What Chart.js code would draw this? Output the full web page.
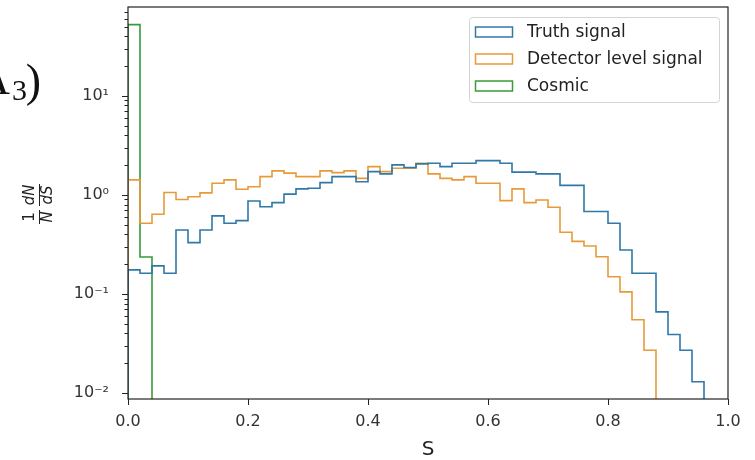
<!DOCTYPE html>
<html>
<head>
<meta charset="utf-8">
<script src="https://cdn.jsdelivr.net/npm/chart.js@4.4.0/dist/chart.umd.min.js"></script>
<style>
   html, body { margin: 0; padding: 0; background: #fff; }
   #hist-chart { display: block; }
</style>
</head>
<body>
<canvas id="hist-chart" width="755" height="460"></canvas>
<script>
// 50 bins of width 0.02 on S in [0, 1], values are 1/N dN/dS
const binWidth = 0.02;
const truthSignal = [
   0.175, 0.162, 0.192, 0.162, 0.443, 0.33, 0.443, 0.614, 0.518, 0.55,
   0.87, 0.76, 0.836, 1.02, 1.15, 1.17, 1.33, 1.53, 1.53, 1.36,
   1.72, 1.63, 2.01, 1.89, 2.06, 2.09, 1.93, 2.09, 2.09, 2.22,
   2.22, 2.09, 1.70, 1.70, 1.63, 1.63, 1.25, 1.25, 0.68, 0.68,
   0.518, 0.278, 0.162, 0.162, 0.066, 0.039, 0.027, 0.013, 0, 0
];
const detectorSignal = [
   1.42, 0.518, 0.638, 1.06, 0.90, 0.96, 1.05, 1.31, 1.42, 1.14,
   1.21, 1.53, 1.75, 1.66, 1.53, 1.53, 1.75, 1.68, 1.75, 1.47,
   1.93, 1.72, 1.86, 1.86, 2.09, 1.63, 1.47, 1.42, 1.53, 1.31,
   1.31, 0.876, 1.15, 0.836, 0.89, 0.75, 0.42, 0.34, 0.305, 0.238,
   0.149, 0.105, 0.055, 0.027, 0, 0, 0, 0, 0, 0
];
const cosmic = [
   52.5, 0.236, 0, 0, 0, 0, 0, 0, 0, 0,
   0, 0, 0, 0, 0, 0, 0, 0, 0, 0,
   0, 0, 0, 0, 0, 0, 0, 0, 0, 0,
   0, 0, 0, 0, 0, 0, 0, 0, 0, 0,
   0, 0, 0, 0, 0, 0, 0, 0, 0, 0
];
const seriesLabels = ['Truth signal', 'Detector level signal', 'Cosmic'];
const xTicks = [0.0, 0.2, 0.4, 0.6, 0.8, 1.0];
const yMajorTicks = [0.01, 0.1, 1, 10];
const yTickLabels = ['10\u207B\u00B2', '10\u207B\u00B9', '10\u2070', '10\u00B9'];
const yMin = 0.0087;
const yMax = 79;

Chart.defaults.font.family = 'DejaVu Sans';

// minor ticks 2..9 for each decade
var yTicks = [];
yMajorTicks.forEach(m => {
   for (let k = 1; k <= 9; k++) {
      const v = m * k;
      if (v >= yMin && v <= yMax) yTicks.push(v);
   }
});

function isMajor(v) {
   return yMajorTicks.findIndex(m => Math.abs(v / m - 1) < 1e-6);
}

// step outline like histtype='step': zero bins fall below the axis
function histPoints(values) {
   const floor = 1e-4;
   var pts = [{x: 0, y: floor}];
   values.forEach((v, i) => {
      pts.push({x: i * binWidth, y: v > 0 ? v : floor});
   });
   const last = values[values.length - 1];
   pts.push({x: values.length * binWidth, y: last > 0 ? last : floor});
   pts.push({x: values.length * binWidth, y: floor});
   return pts;
}

function histSet(label, values, color) {
   return {
      label: label,
      data: histPoints(values),
      borderColor: color,
      backgroundColor: color,
      borderWidth: 1.6,
      stepped: 'before',
      pointRadius: 0,
      fill: false,
      tension: 0
   };
}

const axisFrame = {
   id: 'axisFrame',
   afterDatasetsDraw(chart) {
      const ctx = chart.ctx;
      const a = chart.chartArea;
      ctx.save();
      ctx.strokeStyle = '#222';
      ctx.lineWidth = 1.2;
      ctx.strokeRect(a.left, a.top, a.right - a.left, a.bottom - a.top);
      ctx.lineWidth = 1;
      chart.scales.x.ticks.forEach(t => {
         const px = Math.round(chart.scales.x.getPixelForValue(t.value)) + 0.5;
         ctx.beginPath();
         ctx.moveTo(px, a.bottom);
         ctx.lineTo(px, a.bottom + 6);
         ctx.stroke();
      });
      chart.scales.y.ticks.forEach(t => {
         const py = Math.round(chart.scales.y.getPixelForValue(t.value)) + 0.5;
         const len = isMajor(t.value) >= 0 ? 6 : 3.5;
         ctx.beginPath();
         ctx.moveTo(a.left - len, py);
         ctx.lineTo(a.left, py);
         ctx.stroke();
      });
      ctx.restore();
   }
};

const boxLegend = {
   id: 'boxLegend',
   afterDraw(chart) {
      const ctx = chart.ctx;
      const a = chart.chartArea;
      const w = 250, h = 85;
      const left = a.right - 9 - w;
      const top = a.top + 10;
      ctx.save();
      ctx.fillStyle = 'rgba(255,255,255,0.8)';
      ctx.strokeStyle = '#d4d4d4';
      ctx.lineWidth = 1;
      ctx.beginPath();
      ctx.roundRect(left + 0.5, top + 0.5, w, h, 3);
      ctx.fill();
      ctx.stroke();
      ctx.font = '17px "DejaVu Sans"';
      ctx.textBaseline = 'middle';
      chart.data.datasets.forEach((ds, i) => {
         const cy = top + 15 + i * 27;
         ctx.strokeStyle = ds.borderColor;
         ctx.lineWidth = 1.5;
         ctx.strokeRect(left + 6.5, cy - 5, 37, 10);
         ctx.fillStyle = '#222';
         ctx.fillText(ds.label, left + 58, cy + 1);
      });
      ctx.restore();
   }
};

// y label: (1/N)(dN/dS) rotated
const yFraction = {
   id: 'yFraction',
   afterDraw(chart) {
      const ctx = chart.ctx;
      const a = chart.chartArea;
      ctx.save();
      ctx.translate(39, (a.top + a.bottom) / 2);
      ctx.rotate(-Math.PI / 2);
      ctx.fillStyle = '#222';
      ctx.strokeStyle = '#222';
      ctx.lineWidth = 1;
      ctx.textAlign = 'center';
      ctx.textBaseline = 'alphabetic';
      ctx.font = '15px "DejaVu Sans"';
      ctx.fillText('1', -14, -5);
      ctx.font = 'italic 15px "DejaVu Sans"';
      ctx.fillText('N', -14, 13);
      ctx.fillText('dN', 8, -5);
      ctx.fillText('dS', 8, 13);
      ctx.beginPath();
      ctx.moveTo(-21, 0.5);
      ctx.lineTo(-7, 0.5);
      ctx.moveTo(-3, 0.5);
      ctx.lineTo(19, 0.5);
      ctx.stroke();
      ctx.restore();
   }
};

// cut-off text at the left edge of the original figure
const leftFragment = {
   id: 'leftFragment',
   afterDraw(chart) {
      const ctx = chart.ctx;
      ctx.save();
      ctx.fillStyle = '#111';
      ctx.textBaseline = 'alphabetic';
      ctx.font = '46px "Liberation Serif"';
      ctx.textAlign = 'right';
      ctx.fillText('\u039B', 10, 94);
      ctx.fillText(')', 41, 96);
      ctx.font = '30px "Liberation Serif"';
      ctx.textAlign = 'left';
      ctx.fillText('3', 12, 100);
      ctx.restore();
   }
};

new Chart(document.getElementById('hist-chart'), {
   type: 'line',
   data: {
      datasets: [
         histSet(seriesLabels[0], truthSignal, '#2f78a8'),
         histSet(seriesLabels[1], detectorSignal, '#e89a3a'),
         histSet(seriesLabels[2], cosmic, '#3a9a3a')
      ]
   },
   options: {
      responsive: false,
      animation: false,
      layout: { padding: { top: 7, right: 27, left: 0, bottom: 0 } },
      plugins: {
         legend: { display: false },
         tooltip: { enabled: false }
      },
      scales: {
         x: {
            type: 'linear',
            min: 0,
            max: 1,
            grid: { display: false },
            border: { display: false },
            afterBuildTicks: s => { s.ticks = xTicks.map(v => ({value: v})); },
            afterFit: s => { s.height = 61; s.paddingLeft = 0; s.paddingRight = 0; },
            ticks: {
               padding: 5,
               color: '#333',
               font: { size: 16 },
               maxRotation: 0,
               autoSkip: false,
               callback: v => Number(v).toFixed(1)
            },
            title: {
               display: true,
               text: 'S',
               color: '#222',
               font: { size: 20, lineHeight: 1 },
               padding: 0
            }
         },
         y: {
            type: 'logarithmic',
            min: yMin,
            max: yMax,
            grid: { display: false },
            border: { display: false },
            afterBuildTicks: s => { s.ticks = yTicks.map(v => ({value: v})); },
            afterFit: s => { s.width = 128; s.paddingTop = 0; s.paddingBottom = 0; },
            ticks: {
               padding: 11,
               color: '#333',
               font: { size: 16 },
               autoSkip: false,
               callback: function(value) {
                  const i = isMajor(value);
                  return i >= 0 ? yTickLabels[i] : '';
               }
            }
         }
      }
   },
   plugins: [axisFrame, boxLegend, yFraction, leftFragment]
});
</script>
</body>
</html>
